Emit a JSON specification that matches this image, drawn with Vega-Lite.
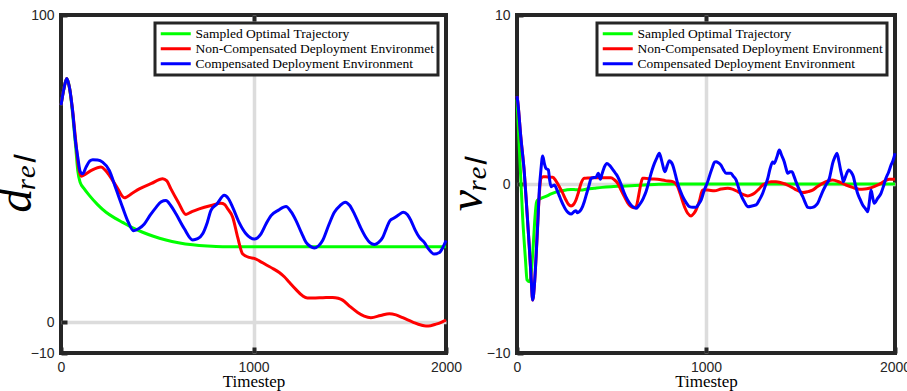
{
  "$schema": "https://vega.github.io/schema/vega-lite/v6.json",
  "background": "white",
  "padding": {"left": -10, "top": 6, "right": 0, "bottom": 0},
  "bounds": "flush",
  "spacing": 71,
  "config": {
    "view": {"stroke": "#262626", "strokeWidth": 4},
    "axis": {
      "domain": false,
      "labelFont": "Liberation Sans",
      "labelFontSize": 14,
      "labelColor": "#262626",
      "tickColor": "#262626",
      "tickWidth": 4,
      "tickSize": -6,
      "labelPadding": 13,
      "format": "d",
      "gridColor": "#dcdcdc",
      "gridWidth": 3.5,
      "titleColor": "#000000",
      "titleFontWeight": "normal",
      "titleFont": "Liberation Serif"
    },
    "legend": {
      "title": null,
      "orient": "top-right",
      "offset": 8,
      "padding": 4,
      "rowPadding": 0,
      "labelFont": "Liberation Serif",
      "labelFontSize": 13.5,
      "labelColor": "#000000",
      "labelLimit": 400,
      "symbolType": "M-3,0H3",
      "symbolSize": 100,
      "symbolStrokeWidth": 3,
      "symbolOffset": 10,
      "labelOffset": 13,
      "fillColor": "white",
      "strokeColor": "#262626"
    }
  },
  "resolve": {"scale": {"color": "independent"}, "legend": {"color": "independent"}},
  "hconcat": [
    {
      "width": 385,
      "height": 338,
      "encoding": {
        "x": {"field": "t", "type": "quantitative", "scale": {"domain": [0, 2000], "nice": false},
          "axis": {"values": [0, 1000, 2000], "title": "Timestep", "titleFont": "Liberation Serif", "titleFontWeight": "normal", "labelFlush": false, "titleFontSize": 17, "titlePadding": -1,
            "gridOpacity": {"condition": {"test": "datum.value === 1000", "value": 1}, "value": 0}}},
        "y": {"field": "v", "type": "quantitative", "scale": {"domain": [-10, 100], "nice": false, "zero": false},
          "axis": {"values": [-10, 0, 100], "title": "dᵣₑₗ", "titleFont": "Liberation Serif", "titleFontSize": 48, "titleFontStyle": "italic", "titlePadding": -10, "labelFlush": false,
            "gridOpacity": {"condition": {"test": "datum.value === 0", "value": 1}, "value": 0}}}
      },
      "layer": [
        {
          "layer": [
            {
              "data": {"values": [
                {"t":0,"v":70.6},{"t":15,"v":76},{"t":30,"v":79.3},{"t":45,"v":76},{"t":60,"v":68},{"t":75,"v":58},{"t":87,"v":49.4},{"t":99,"v":45.6},{"t":120,"v":43.5},{"t":147,"v":41.3},{"t":190,"v":38.3},{"t":234,"v":35.8},{"t":280,"v":33.9},{"t":320,"v":32.5},{"t":370,"v":30.8},{"t":424,"v":29.3},{"t":480,"v":28},{"t":545,"v":26.8},{"t":610,"v":25.9},{"t":684,"v":25.2},{"t":760,"v":24.8},{"t":840,"v":24.6},{"t":1000,"v":24.6},{"t":1500,"v":24.6},{"t":2000,"v":24.6}
              ]},
              "mark": {"type": "line", "strokeWidth": 3, "interpolate": "monotone"},
              "encoding": {"color": {"datum": "Sampled Optimal Trajectory", "type": "nominal",
                "scale": {"domain": ["Sampled Optimal Trajectory", "Non-Compensated Deployment Environmet", "Compensated Deployment Environment"], "range": ["#00ff00", "#ff0000", "#0000ff"]},
                "legend": {"encode": {"legend": {"update": {"stroke": {"value": "#262626"}, "strokeWidth": {"value": 3}}}}}}}
            },
            {
              "data": {"values": [
                {"t":0,"v":70.6},{"t":15,"v":76},{"t":30,"v":79.3},{"t":45,"v":76},{"t":60,"v":69},{"t":75,"v":60},{"t":90,"v":51},{"t":105,"v":47.5},{"t":116,"v":47.8},{"t":160,"v":49.5},{"t":208,"v":50.5},{"t":230,"v":49.5},{"t":251,"v":47.8},{"t":290,"v":44},{"t":329,"v":40.5},{"t":370,"v":42},{"t":407,"v":43.4},{"t":470,"v":45.2},{"t":528,"v":46.7},{"t":550,"v":46},{"t":571,"v":43.4},{"t":610,"v":39},{"t":649,"v":35.1},{"t":680,"v":36},{"t":718,"v":36.9},{"t":780,"v":38},{"t":831,"v":38.7},{"t":850,"v":38.3},{"t":866,"v":36.9},{"t":892,"v":34.2},{"t":918,"v":27.6},{"t":944,"v":22.2},{"t":978,"v":21.1},{"t":1004,"v":20.8},{"t":1030,"v":20},{"t":1065,"v":18.7},{"t":1100,"v":17.5},{"t":1134,"v":16.2},{"t":1160,"v":14.8},{"t":1186,"v":13},{"t":1220,"v":10.7},{"t":1255,"v":8.6},{"t":1280,"v":7.9},{"t":1307,"v":7.9},{"t":1360,"v":8},{"t":1411,"v":8.1},{"t":1440,"v":7.8},{"t":1463,"v":7.2},{"t":1500,"v":5.2},{"t":1541,"v":3.2},{"t":1575,"v":2},{"t":1610,"v":1.5},{"t":1660,"v":2.2},{"t":1706,"v":2.8},{"t":1740,"v":2.4},{"t":1775,"v":1.5},{"t":1830,"v":0},{"t":1870,"v":-0.9},{"t":1896,"v":-1.2},{"t":1920,"v":-1.1},{"t":1948,"v":-0.6},{"t":1975,"v":0},{"t":2000,"v":0.7}
              ]},
              "mark": {"type": "line", "strokeWidth": 3, "interpolate": "monotone"},
              "encoding": {"color": {"datum": "Non-Compensated Deployment Environmet", "type": "nominal"}}
            },
            {
              "data": {"values": [
                {"t":0,"v":70.6},{"t":15,"v":76},{"t":30,"v":79.3},{"t":45,"v":76},{"t":60,"v":69},{"t":75,"v":59},{"t":87,"v":53.8},{"t":100,"v":49},{"t":113,"v":48.3},{"t":130,"v":50.5},{"t":150,"v":52.5},{"t":165,"v":52.9},{"t":190,"v":52.8},{"t":216,"v":52.1},{"t":251,"v":49.4},{"t":285,"v":43.5},{"t":320,"v":37.4},{"t":350,"v":32.5},{"t":376,"v":29.8},{"t":405,"v":30.5},{"t":433,"v":32},{"t":465,"v":35},{"t":494,"v":37.4},{"t":520,"v":39.2},{"t":545,"v":39.6},{"t":570,"v":38},{"t":597,"v":35.3},{"t":640,"v":30.5},{"t":684,"v":26.8},{"t":710,"v":27.2},{"t":736,"v":28.8},{"t":760,"v":32.5},{"t":779,"v":36.4},{"t":810,"v":38.5},{"t":848,"v":41.3},{"t":870,"v":40.2},{"t":892,"v":37.4},{"t":925,"v":32.5},{"t":961,"v":28.8},{"t":1004,"v":27.1},{"t":1039,"v":28.8},{"t":1065,"v":32},{"t":1091,"v":34.7},{"t":1130,"v":36.5},{"t":1169,"v":37.7},{"t":1195,"v":36},{"t":1221,"v":33.1},{"t":1250,"v":29},{"t":1273,"v":26},{"t":1295,"v":24.7},{"t":1316,"v":24.2},{"t":1340,"v":25},{"t":1359,"v":26.6},{"t":1390,"v":31.5},{"t":1420,"v":35.8},{"t":1450,"v":38},{"t":1477,"v":39.1},{"t":1500,"v":38},{"t":1524,"v":35.3},{"t":1555,"v":31},{"t":1584,"v":27.6},{"t":1605,"v":25.9},{"t":1628,"v":25.3},{"t":1650,"v":26},{"t":1671,"v":27.6},{"t":1690,"v":30.5},{"t":1709,"v":33.1},{"t":1732,"v":34},{"t":1755,"v":35},{"t":1778,"v":35.8},{"t":1800,"v":35},{"t":1818,"v":33.1},{"t":1840,"v":30},{"t":1862,"v":27.6},{"t":1887,"v":26},{"t":1910,"v":23.8},{"t":1939,"v":22.2},{"t":1966,"v":22.7},{"t":1985,"v":24.5},{"t":2000,"v":26.6}
              ]},
              "mark": {"type": "line", "strokeWidth": 3, "interpolate": "monotone"},
              "encoding": {"color": {"datum": "Compensated Deployment Environment", "type": "nominal"}}
            }
          ]
        },
        {
          "data": {"values": [{"t": 1000, "v": 0}]},
          "mark": {"type": "rule", "opacity": 0},
          "encoding": {
            "x": {"field": "t", "type": "quantitative", "axis": {"orient": "top", "values": [1000], "labels": false, "title": null, "grid": false}}
          }
        }
      ],
      "resolve": {"axis": {"x": "independent"}}
    },
    {
      "width": 378,
      "height": 338,
      "encoding": {
        "x": {"field": "t", "type": "quantitative", "scale": {"domain": [0, 2000], "nice": false},
          "axis": {"values": [0, 1000, 2000], "title": "Timestep", "titleFont": "Liberation Serif", "titleFontWeight": "normal", "labelFlush": false, "titleFontSize": 17, "titlePadding": -1,
            "gridOpacity": {"condition": {"test": "datum.value === 1000", "value": 1}, "value": 0}}},
        "y": {"field": "v", "type": "quantitative", "scale": {"domain": [-10, 10], "nice": false, "zero": false},
          "axis": {"values": [-10, 0, 10], "title": "vᵣₑₗ", "titleFont": "Liberation Serif", "titleFontSize": 48, "titleFontStyle": "italic", "titlePadding": -5, "labelFlush": false,
            "gridOpacity": {"condition": {"test": "datum.value === 0", "value": 1}, "value": 0}}}
      },
      "layer": [
        {
          "layer": [
            {
              "data": {"values": [
                {"t":0,"v":5},{"t":15,"v":1.5},{"t":30,"v":-2},{"t":45,"v":-4.5},{"t":53,"v":-5.68},{"t":65,"v":-5.78},{"t":75,"v":-5.3},{"t":85,"v":-3.8},{"t":95,"v":-2.0},{"t":103,"v":-1.1},{"t":109,"v":-0.95},{"t":127,"v":-0.85},{"t":150,"v":-0.75},{"t":180,"v":-0.59},{"t":205,"v":-0.48},{"t":233,"v":-0.4},{"t":260,"v":-0.35},{"t":286,"v":-0.32},{"t":310,"v":-0.34},{"t":339,"v":-0.36},{"t":370,"v":-0.3},{"t":409,"v":-0.25},{"t":450,"v":-0.2},{"t":497,"v":-0.16},{"t":550,"v":-0.13},{"t":603,"v":-0.1},{"t":674,"v":-0.06},{"t":750,"v":-0.02},{"t":850,"v":0},{"t":1000,"v":0},{"t":1500,"v":0},{"t":2000,"v":0}
              ]},
              "mark": {"type": "line", "strokeWidth": 3, "interpolate": "monotone"},
              "encoding": {"color": {"datum": "Sampled Optimal Trajectory", "type": "nominal",
                "scale": {"domain": ["Sampled Optimal Trajectory", "Non-Compensated Deployment Environment", "Compensated Deployment Environment"], "range": ["#00ff00", "#ff0000", "#0000ff"]},
                "legend": {"encode": {"legend": {"update": {"stroke": {"value": "#262626"}, "strokeWidth": {"value": 3}}}}}}}
            },
            {
              "data": {"values": [
                {"t":0,"v":5.2},{"t":3,"v":4.97},{"t":20,"v":2.8},{"t":39,"v":0.63},{"t":52,"v":-1.5},{"t":65,"v":-3.7},{"t":75,"v":-5.6},{"t":83,"v":-6.86},{"t":92,"v":-6.0},{"t":101,"v":-4.3},{"t":112,"v":-1.8},{"t":120,"v":-0.3},{"t":127,"v":0.34},{"t":139,"v":0.43},{"t":160,"v":0.42},{"t":189,"v":0.4},{"t":205,"v":0.2},{"t":224,"v":-0.16},{"t":240,"v":-0.5},{"t":259,"v":-0.95},{"t":272,"v":-1.2},{"t":286,"v":-1.3},{"t":300,"v":-1.2},{"t":312,"v":-0.95},{"t":325,"v":-0.5},{"t":339,"v":0.04},{"t":356,"v":0.34},{"t":380,"v":0.36},{"t":409,"v":0.37},{"t":450,"v":0.37},{"t":497,"v":0.37},{"t":515,"v":0.25},{"t":533,"v":0.04},{"t":550,"v":-0.35},{"t":568,"v":-0.75},{"t":585,"v":-1.1},{"t":603,"v":-1.34},{"t":618,"v":-1.4},{"t":630,"v":-1.34},{"t":645,"v":-0.6},{"t":655,"v":0},{"t":665,"v":0.34},{"t":674,"v":0.34},{"t":710,"v":0.3},{"t":744,"v":0.28},{"t":785,"v":0.2},{"t":824,"v":0.14},{"t":850,"v":-0.16},{"t":864,"v":-0.6},{"t":877,"v":-1.05},{"t":890,"v":-1.45},{"t":903,"v":-1.73},{"t":921,"v":-1.89},{"t":935,"v":-1.75},{"t":947,"v":-1.54},{"t":965,"v":-1.0},{"t":982,"v":-0.36},{"t":1009,"v":-0.36},{"t":1044,"v":-0.4},{"t":1080,"v":-0.3},{"t":1115,"v":-0.25},{"t":1140,"v":-0.3},{"t":1168,"v":-0.45},{"t":1195,"v":-0.62},{"t":1221,"v":-0.71},{"t":1240,"v":-0.65},{"t":1256,"v":-0.55},{"t":1280,"v":-0.3},{"t":1300,"v":-0.06},{"t":1344,"v":0.14},{"t":1370,"v":0.14},{"t":1400,"v":0.06},{"t":1432,"v":-0.06},{"t":1470,"v":-0.3},{"t":1512,"v":-0.51},{"t":1540,"v":-0.45},{"t":1564,"v":-0.36},{"t":1590,"v":-0.15},{"t":1617,"v":0.04},{"t":1645,"v":0.18},{"t":1670,"v":0.24},{"t":1705,"v":0.12},{"t":1741,"v":-0.06},{"t":1775,"v":-0.2},{"t":1811,"v":-0.31},{"t":1840,"v":-0.3},{"t":1864,"v":-0.25},{"t":1895,"v":-0.12},{"t":1926,"v":0.04},{"t":1950,"v":0.2},{"t":1970,"v":0.28},{"t":2000,"v":0.28}
              ]},
              "mark": {"type": "line", "strokeWidth": 3, "interpolate": "monotone"},
              "encoding": {"color": {"datum": "Non-Compensated Deployment Environment", "type": "nominal"}}
            },
            {
              "data": {"values": [
                {"t":0,"v":5.2},{"t":3,"v":4.97},{"t":20,"v":2.8},{"t":39,"v":0.63},{"t":52,"v":-1.5},{"t":65,"v":-3.7},{"t":75,"v":-5.6},{"t":83,"v":-6.86},{"t":92,"v":-6.0},{"t":101,"v":-4.3},{"t":110,"v":-2.3},{"t":118,"v":-0.36},{"t":127,"v":0.9},{"t":136,"v":1.66},{"t":145,"v":1.2},{"t":153,"v":0.93},{"t":166,"v":0.83},{"t":172,"v":0.3},{"t":180,"v":-0.16},{"t":190,"v":-0.1},{"t":198,"v":-0.06},{"t":206,"v":-0.2},{"t":215,"v":-0.45},{"t":224,"v":-0.7},{"t":233,"v":-0.95},{"t":245,"v":-1.25},{"t":259,"v":-1.54},{"t":272,"v":-1.7},{"t":286,"v":-1.78},{"t":300,"v":-1.65},{"t":312,"v":-1.58},{"t":320,"v":-1.7},{"t":330,"v":-1.64},{"t":340,"v":-1.5},{"t":356,"v":-1.05},{"t":365,"v":-0.7},{"t":374,"v":-0.36},{"t":383,"v":0},{"t":392,"v":0.34},{"t":405,"v":0.38},{"t":418,"v":0.4},{"t":430,"v":0.63},{"t":441,"v":0.28},{"t":450,"v":0.6},{"t":462,"v":1.0},{"t":476,"v":1.22},{"t":490,"v":1.1},{"t":506,"v":0.87},{"t":520,"v":0.65},{"t":533,"v":0.43},{"t":550,"v":0},{"t":568,"v":-0.55},{"t":585,"v":-0.95},{"t":603,"v":-1.24},{"t":618,"v":-1.38},{"t":630,"v":-1.44},{"t":643,"v":-1.3},{"t":656,"v":-1.1},{"t":670,"v":-0.8},{"t":683,"v":-0.45},{"t":700,"v":0.24},{"t":714,"v":0.8},{"t":727,"v":1.22},{"t":740,"v":1.55},{"t":753,"v":1.82},{"t":765,"v":1.4},{"t":775,"v":0.95},{"t":783,"v":0.73},{"t":795,"v":1.1},{"t":806,"v":1.38},{"t":815,"v":1.3},{"t":824,"v":1.12},{"t":837,"v":0.6},{"t":850,"v":0.04},{"t":864,"v":-0.4},{"t":877,"v":-0.75},{"t":895,"v":-1.1},{"t":912,"v":-1.34},{"t":930,"v":-1.38},{"t":947,"v":-1.38},{"t":960,"v":-1.2},{"t":974,"v":-0.95},{"t":990,"v":-0.4},{"t":1009,"v":0.14},{"t":1022,"v":0.6},{"t":1035,"v":1.02},{"t":1045,"v":1.3},{"t":1053,"v":1.32},{"t":1066,"v":1.25},{"t":1079,"v":1.12},{"t":1092,"v":0.85},{"t":1106,"v":0.63},{"t":1120,"v":0.63},{"t":1132,"v":0.63},{"t":1145,"v":0.45},{"t":1159,"v":0.24},{"t":1172,"v":-0.2},{"t":1185,"v":-0.65},{"t":1203,"v":-1.05},{"t":1221,"v":-1.34},{"t":1243,"v":-1.3},{"t":1265,"v":-1.24},{"t":1282,"v":-0.95},{"t":1300,"v":-0.55},{"t":1314,"v":-0.1},{"t":1327,"v":0.34},{"t":1340,"v":0.95},{"t":1353,"v":1.3},{"t":1361,"v":1.22},{"t":1375,"v":1.6},{"t":1388,"v":2.01},{"t":1400,"v":1.7},{"t":1414,"v":1.32},{"t":1424,"v":0.9},{"t":1432,"v":0.63},{"t":1445,"v":0.72},{"t":1455,"v":0.73},{"t":1466,"v":0.45},{"t":1476,"v":0.14},{"t":1494,"v":-0.35},{"t":1512,"v":-0.75},{"t":1525,"v":-1.1},{"t":1538,"v":-1.38},{"t":1551,"v":-1.4},{"t":1564,"v":-1.38},{"t":1578,"v":-1.3},{"t":1591,"v":-1.14},{"t":1604,"v":-0.8},{"t":1617,"v":-0.45},{"t":1635,"v":-0.05},{"t":1653,"v":0.34},{"t":1662,"v":0.8},{"t":1670,"v":1.22},{"t":1682,"v":1.6},{"t":1693,"v":1.82},{"t":1704,"v":1.3},{"t":1714,"v":0.73},{"t":1721,"v":0.4},{"t":1727,"v":0.14},{"t":1740,"v":0.5},{"t":1755,"v":0.83},{"t":1768,"v":0.7},{"t":1780,"v":0.43},{"t":1791,"v":-0.1},{"t":1802,"v":-0.55},{"t":1815,"v":-0.9},{"t":1829,"v":-1.24},{"t":1843,"v":-1.45},{"t":1856,"v":-1.64},{"t":1865,"v":-1.0},{"t":1873,"v":-0.36},{"t":1882,"v":-0.8},{"t":1890,"v":-1.14},{"t":1908,"v":-0.85},{"t":1926,"v":-0.55},{"t":1940,"v":-0.1},{"t":1952,"v":0.34},{"t":1966,"v":0.7},{"t":1979,"v":1.12},{"t":1990,"v":1.4},{"t":2000,"v":1.82}
              ]},
              "mark": {"type": "line", "strokeWidth": 3, "interpolate": "monotone"},
              "encoding": {"color": {"datum": "Compensated Deployment Environment", "type": "nominal"}}
            }
          ]
        },
        {
          "data": {"values": [{"t": 1000, "v": 0}]},
          "mark": {"type": "rule", "opacity": 0},
          "encoding": {
            "x": {"field": "t", "type": "quantitative", "axis": {"orient": "top", "values": [1000], "labels": false, "title": null, "grid": false}}
          }
        }
      ],
      "resolve": {"axis": {"x": "independent"}}
    }
  ]
}
